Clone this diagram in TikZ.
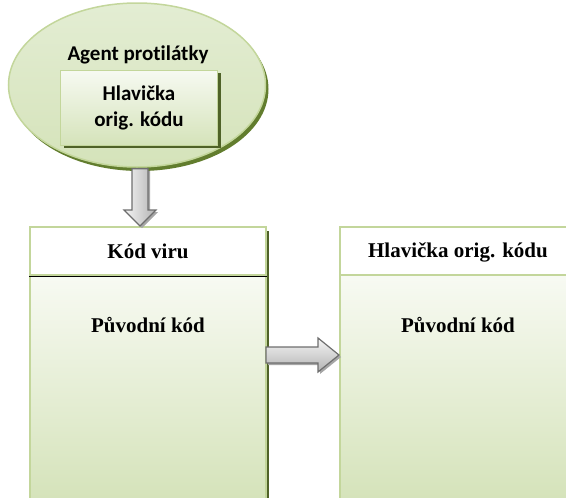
\documentclass[tikz,border=0pt]{standalone}
\usepackage{fontspec}
\setmainfont{Liberation Serif}
\newfontfamily\calibri[Ligatures=NoCommon]{Carlito}
\usetikzlibrary{shapes.geometric,shadows,calc}
\definecolor{bordergreen}{HTML}{C3D69B}
\definecolor{palegreen}{HTML}{D5E3BA}
\definecolor{lightgreen}{HTML}{E3EDD3}
\definecolor{shadowgreen}{HTML}{627D2E}
\definecolor{darkolive}{HTML}{4F6228}
\definecolor{arrowedge}{HTML}{6E6E6E}
\begin{document}
\begin{tikzpicture}[x=1pt,y=-1pt,
  seriflbl/.style={font=\bfseries\fontsize{21}{25}\selectfont},
  sanslbl/.style={font=\calibri\bfseries\fontsize{21}{26}\selectfont},
  panel/.style={draw=bordergreen, line width=2pt, top color=white, bottom color=palegreen},
  panelhead/.style={draw=bordergreen, line width=2pt, fill=white},
  blockarrow/.style={draw=arrowedge, line width=1.2pt, line join=miter,
    drop shadow={shadow xshift=2pt, shadow yshift=-2pt, fill=gray!70, opacity=1}}
]
\useasboundingbox (0,0) rectangle (566,498);

% agent ellipse with the stored header
\node[ellipse, draw=bordergreen, line width=1.5pt,
      top color=lightgreen, bottom color=palegreen,
      minimum width=257pt, minimum height=164pt,
      drop shadow={shadow xshift=3pt, shadow yshift=-4pt, fill=shadowgreen, opacity=1}]
      (agent) at (137,85) {};
\node[sanslbl] (agentlbl) at (138,55) {Agent protilátky};
\node[draw=bordergreen, line width=1pt, top color=white!70!lightgreen, bottom color=palegreen,
      minimum width=157pt, minimum height=75pt, align=center, sanslbl,
      drop shadow={shadow xshift=3pt, shadow yshift=-3pt, fill=darkolive, opacity=1}]
      (orighdr) at (139,107.5) {Hlavička\\orig. kódu};

% infected program
\node[panel, minimum width=236pt, minimum height=272pt, anchor=north west,
      drop shadow={shadow xshift=3pt, shadow yshift=-4pt, fill=darkolive, opacity=1}]
      (virus) at (29,226) {};
\node[panelhead, minimum width=236pt, minimum height=48pt, anchor=north]
      (virushead) at (virus.north) {};
\draw[black, line width=1pt] (virushead.south west) -- (virushead.south east);
\node[seriflbl] (viruslbl) at (virushead.center) {Kód viru};
\node[seriflbl] (virusbody) at ($(virus.north)+(0,99)$) {Původní kód};

% restored program
\node[panel, minimum width=236pt, minimum height=272pt, anchor=north west]
      (clean) at (339,226) {};
\node[panelhead, minimum width=236pt, minimum height=48pt, anchor=north]
      (cleanhead) at (clean.north) {};
\node[seriflbl] (cleanlbl) at ($(cleanhead.center)+(0,1)$) {Hlavička orig. kódu};
\node[seriflbl] (cleanbody) at ($(clean.north)+(0,99)$) {Původní kód};

% block arrows
\coordinate (dtop) at ($(agent.south)+(3,1)$);
\coordinate (dtip) at (dtop |- virus.north);
\draw[blockarrow, left color=gray!8, right color=gray!60]
  ($(dtop)+(-8,0)$) -- ($(dtop)+(8,0)$) -- ($(dtip)+(8,-16)$) -- ($(dtip)+(16,-16)$)
  -- (dtip) -- ($(dtip)+(-16,-16)$) -- ($(dtip)+(-8,-16)$) -- cycle;

\coordinate (rtail) at ($(virus.north east)+(-1,129)$);
\coordinate (rtip) at (rtail -| clean.west);
\draw[blockarrow, top color=gray!8, bottom color=gray!60]
  ($(rtail)+(0,-8)$) -- ($(rtip)+(-21,-8)$) -- ($(rtip)+(-21,-17)$) -- (rtip)
  -- ($(rtip)+(-21,17)$) -- ($(rtip)+(-21,8)$) -- ($(rtail)+(0,8)$) -- cycle;
\end{tikzpicture}
\end{document}
